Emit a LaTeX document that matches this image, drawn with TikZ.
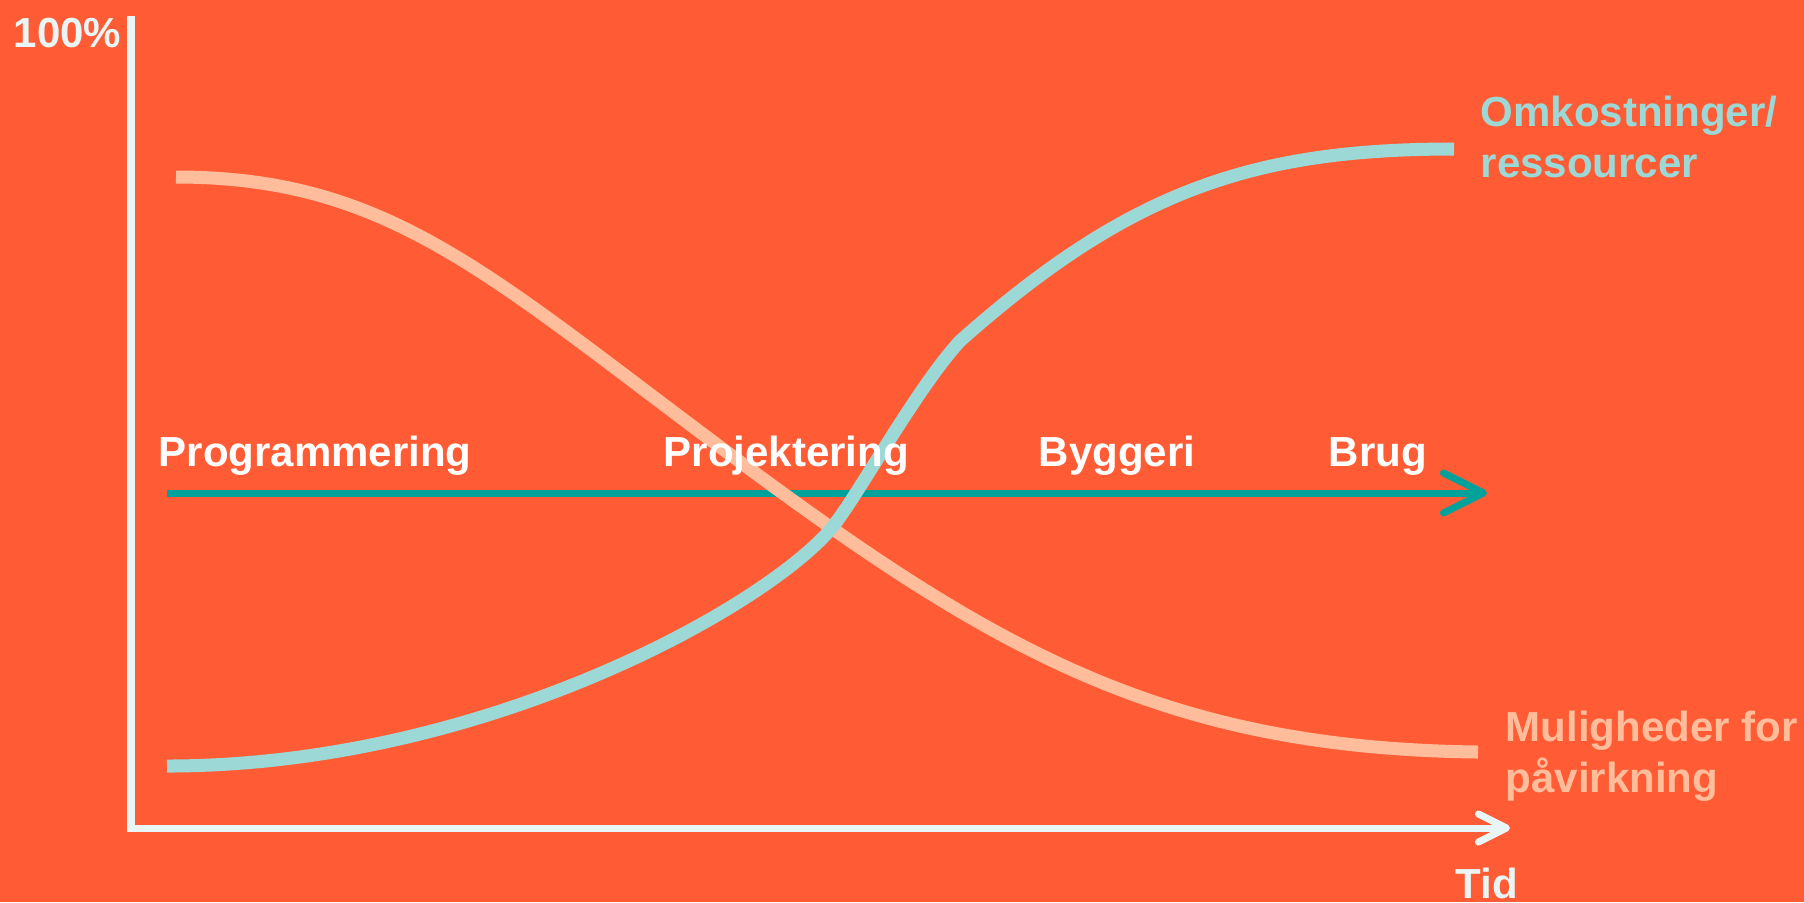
\documentclass[tikz,border=0pt]{standalone}
\usepackage{fontspec}
\setmainfont{Liberation Sans}
\usepackage{xcolor}
\usetikzlibrary{arrows.meta}

\definecolor{bgorange}{HTML}{FF5C35}
\definecolor{peach}{HTML}{FFBD9B}
\definecolor{lightteal}{HTML}{9CD9D6}
\definecolor{darkteal}{HTML}{00A19A}
\definecolor{axiswhite}{HTML}{EAF6F6}

\tikzset{
  txt/.style={inner sep=0pt, anchor=base west, align=left,
    font=\fontsize{11.95pt}{14.23pt}\selectfont\bfseries},
  axisline/.style={draw=axiswhite, line width=2pt,
    -{Straight Barb[length=2.8mm, width=2.8mm, round]}},
  phaseline/.style={draw=darkteal, line width=2pt,
    -{Straight Barb[length=4mm, width=4mm, round]}},
  curveline/.style={line width=3.7pt}
}

\begin{document}
\begin{tikzpicture}[x=0.01cm, y=-0.01cm]
  % Background
  \fill[bgorange] (0,0) rectangle (1804,902);
  \useasboundingbox (0,0) rectangle (1804,902);

  % Axes
  \coordinate (ytop) at (131,16);
  \coordinate (xend) at (1510,828);
  \draw[axisline] (ytop) |- (xend);

  % Phase arrow
  \coordinate (pstart) at (167,493);
  \coordinate (pend) at (1487,493);
  \draw[phaseline] (pstart) -- (pend);

  % Curves
  \draw[curveline, peach] (176,177)
    .. controls (380,177) and (480,267) .. (700,432)
    .. controls (980,642) and (1150,748) .. (1478,752);
  \draw[curveline, lightteal] (167,766)
    .. controls (480,766) and (760,610) .. (830,530)
    .. controls (855,501) and (915,390) .. (960,341)
    .. controls (1130,190) and (1254,149) .. (1454,149);

  % Texts
  \node[txt, text=axiswhite] (hundred) at (13,47) {100\%};
  \node[txt, text=white] (prog) at (158,466) {Programmering};
  \node[txt, text=white] (proj) at (663,466) {Projektering};
  \node[txt, text=white] (byg) at (1038,466) {Byggeri};
  \node[txt, text=white] (brug) at (1328,466) {Brug};
  \node[txt, text=lightteal] (omk) at (1480,177) {Omkostninger/\\ressourcer};
  \node[txt, text=peach] (mul) at (1505,792) {Muligheder for\\påvirkning};
  \node[txt, text=axiswhite] (tid) at (1455,898) {Tid};
\end{tikzpicture}
\end{document}
